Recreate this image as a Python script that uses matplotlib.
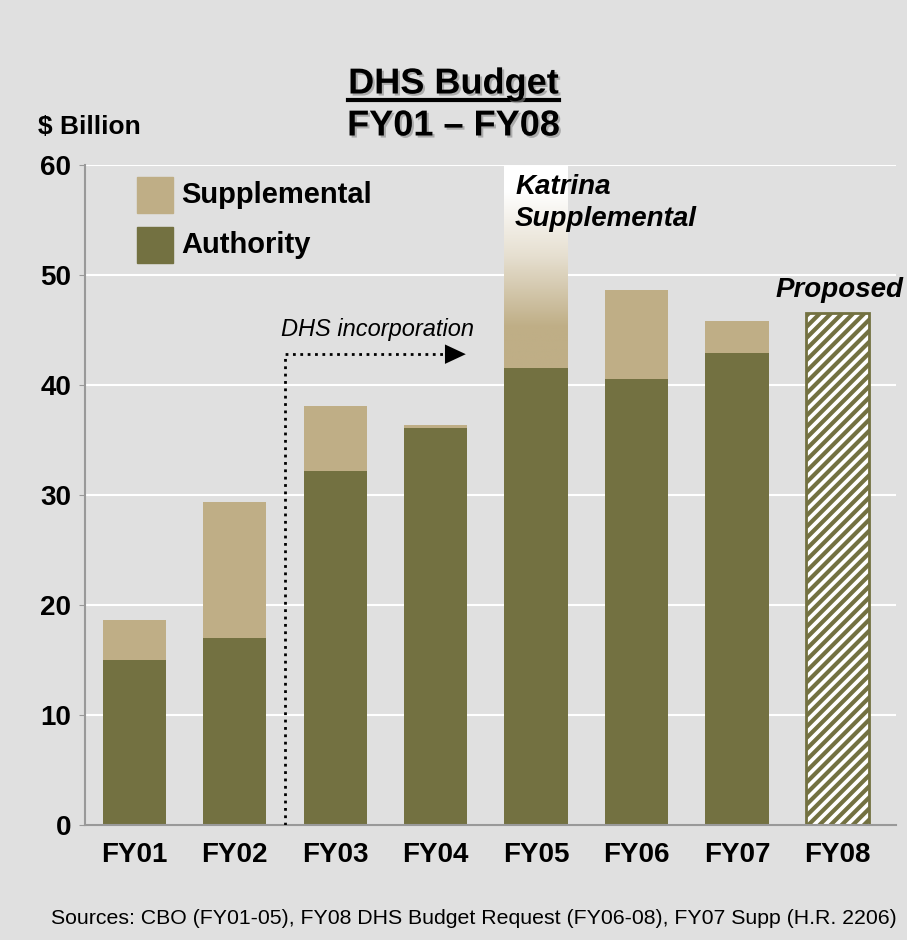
import matplotlib.pyplot as plt
import matplotlib.patheffects as pe
import numpy as np
from matplotlib.colors import LinearSegmentedColormap
from matplotlib.patches import Rectangle

# data ($ billion)
years = ["FY01", "FY02", "FY03", "FY04", "FY05", "FY06", "FY07", "FY08"]
authority = [15.0, 17.0, 32.2, 36.1, 41.5, 40.5, 42.9, 0.0]
supplemental = [3.6, 12.4, 5.9, 0.3, 0.0, 8.1, 2.9, 0.0]
katrina_top = 60.0  # FY05 supplemental fades out to the top of the axis
proposed = [0, 0, 0, 0, 0, 0, 0, 46.5]
yticks = [0, 10, 20, 30, 40, 50, 60]

BG = "#e0e0e0"
OLIVE = "#737141"
TAN = "#bfae86"
FONT = ["Liberation Sans", "DejaVu Sans"]

plt.rcParams["hatch.linewidth"] = 3.0
plt.rcParams["hatch.color"] = OLIVE

fig = plt.figure(figsize=(9.07, 9.40), dpi=100, facecolor=BG)
ax = fig.add_axes([0.0937, 0.1223, 0.894, 0.7022])
ax.set_facecolor(BG)

x = np.arange(len(years))
w = 0.63
ax.bar(x, authority, w, color=OLIVE, zorder=2)
ax.bar(x, supplemental, w, bottom=authority, color=TAN, zorder=2)
ax.bar(x, proposed, w, color="white", edgecolor=OLIVE, hatch="///",
       linewidth=2, zorder=2)

# Katrina supplemental: gradient from tan into white
i05 = years.index("FY05")
cmap = LinearSegmentedColormap.from_list(
    "fade", [(0.0, TAN), (0.2, TAN), (0.55, "#e6dfd0"), (0.87, "#ffffff"),
             (1.0, "#ffffff")])
grad = np.linspace(0, 1, 256).reshape(-1, 1)
ax.imshow(grad, cmap=cmap, aspect="auto", origin="lower", zorder=2,
          extent=(i05 - w / 2, i05 + w / 2, authority[i05], katrina_top))

ax.set_xlim(-0.49, len(years) - 0.42)
ax.set_ylim(0, 60)
ax.set_yticks(yticks)
ax.set_xticks(x)
ax.set_xticklabels(years, fontsize=20, fontweight="bold", family=FONT)
ax.set_yticklabels([str(t) for t in yticks], fontsize=20, fontweight="bold",
                   family=FONT)
ax.tick_params(axis="x", length=0, pad=12)
ax.tick_params(axis="y", length=4, color="#999999", pad=6)
ax.grid(axis="y", color="white", linewidth=1.5)
ax.set_axisbelow(True)
for s in ["top", "right"]:
    ax.spines[s].set_visible(False)
for s in ["left", "bottom"]:
    ax.spines[s].set_color("#999999")
    ax.spines[s].set_linewidth(1.5)

# legend drawn by hand
for yy, col, lab in [(57.3, TAN, "Supplemental"), (52.7, OLIVE, "Authority")]:
    ax.add_patch(Rectangle((0.03, yy - 1.65), 0.355, 3.3, color=col, zorder=3,
                           clip_on=False))
    ax.text(0.47, yy, lab, fontsize=21, fontweight="bold", family=FONT,
            va="center", ha="left", zorder=3)

# DHS incorporation arrow
ax.plot([1.5, 1.5, 3.18], [0, 42.8, 42.8], color="black", linestyle=":",
        linewidth=2, zorder=3)
ax.annotate("", xy=(3.3, 42.8), xytext=(3.15, 42.8),
            arrowprops=dict(arrowstyle="-|>,head_length=0.75,head_width=0.35",
                            linewidth=0, color="black", mutation_scale=20,
                            shrinkA=0, shrinkB=0), zorder=3)
ax.text(2.42, 45.0, "DHS incorporation", fontsize=17, style="italic",
        family=FONT, ha="center", va="center")

ax.text(3.79, 56.5, "Katrina\nSupplemental", fontsize=20, style="italic",
        fontweight="bold", family=FONT, ha="left", va="center",
        linespacing=1.3)
ax.text(6.38, 48.6, "Proposed", fontsize=20, style="italic",
        fontweight="bold", family=FONT, ha="left", va="center", clip_on=False)

shadow = [pe.withSimplePatchShadow(offset=(1.5, -1.5), shadow_rgbFace="#888888",
                                   alpha=0.6)]
t1 = fig.text(0.5, 1 - 84 / 940, "DHS Budget", fontsize=26, fontweight="bold",
              family=FONT, ha="center", va="center", path_effects=shadow)
fig.text(0.5, 1 - 126 / 940, "FY01 – FY08", fontsize=26, fontweight="bold",
         family=FONT, ha="center", va="center", path_effects=shadow)
fig.text(38 / 907, 1 - 127 / 940, "$ Billion", fontsize=19, fontweight="bold",
         family=FONT, ha="left", va="center")
fig.text(474 / 907, 1 - 918 / 940,
         "Sources: CBO (FY01-05), FY08 DHS Budget Request (FY06-08), FY07 Supp (H.R. 2206)",
         fontsize=15.3, family=FONT, ha="center", va="center")

# underline under the title
fig.canvas.draw()
bb = t1.get_window_extent().transformed(fig.transFigure.inverted())
fig.add_artist(plt.Line2D([bb.x0, bb.x1], [bb.y0 + 0.002, bb.y0 + 0.002],
                          color="black", linewidth=3, transform=fig.transFigure,
                          path_effects=shadow))

fig.savefig("out.png", dpi=100, facecolor=BG)
